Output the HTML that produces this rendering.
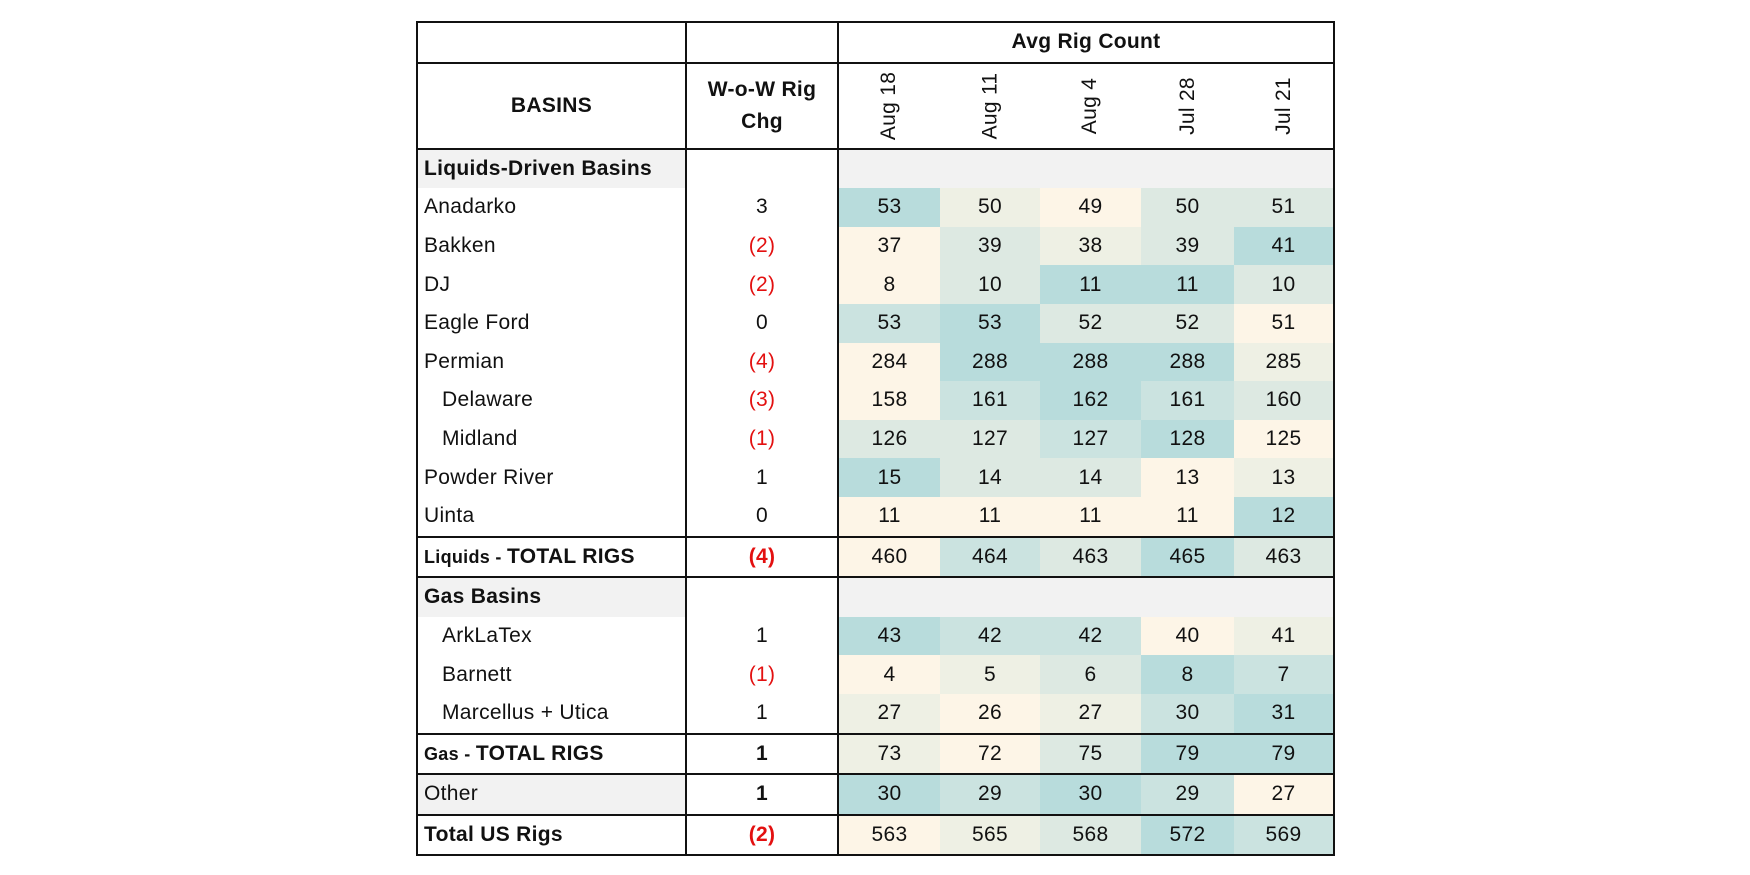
<!DOCTYPE html>
<html><head><meta charset="utf-8"><style>
body{margin:0;background:#fff;width:1750px;height:875px;overflow:hidden;font-family:"Liberation Sans",Arial,sans-serif;color:#111}
table{position:absolute;left:416px;top:21px;border-collapse:collapse;table-layout:fixed;border:2px solid #111}
td{padding:0;height:38.6px;font-size:21px;text-align:center;white-space:nowrap;overflow:hidden;letter-spacing:0.3px}
td.n{text-align:left;padding-left:6px}
td.i{text-align:left;padding-left:24px}
.b{font-weight:bold}
.r{color:#e31010}
.g{background:#f2f2f2}
.c1{border-right:2px solid #111}.c2{border-right:2px solid #111}
tr.t td{border-top:2px solid #111}
.l0{background:#fdf5e7}.l1{background:#eef0e4}.l2{background:#dde9e2}.l3{background:#cbe3e0}.l4{background:#b8dcdc}
.rot{display:inline-block;transform:rotate(-90deg);white-space:nowrap;font-size:21px}
</style></head><body>
<table>
<colgroup><col style="width:269px"><col style="width:152px"><col style="width:102px"><col style="width:100px"><col style="width:101px"><col style="width:93px"><col style="width:100px"></colgroup>
<tr><td class="c1" style="height:36px"></td><td class="c2"></td><td colspan="5" style="font-weight:bold;font-size:21px">Avg Rig Count</td></tr>
<tr class="t"><td class="c1 b" style="height:84px">BASINS</td><td class="c2 b" style="line-height:32px">W-o-W Rig<br>Chg</td>
<td><span class="rot">Aug 18</span></td><td><span class="rot">Aug 11</span></td><td><span class="rot">Aug 4</span></td><td><span class="rot">Jul 28</span></td><td><span class="rot">Jul 21</span></td></tr>
<tr class="t"><td class="c1 n b g" style="font-size:21px">Liquids-Driven Basins</td><td class="c2"></td><td colspan="5" class="g"></td></tr>
<tr><td class="c1 n">Anadarko</td><td class="c2">3</td><td class="l4">53</td><td class="l1">50</td><td class="l0">49</td><td class="l2">50</td><td class="l2">51</td></tr>
<tr><td class="c1 n">Bakken</td><td class="c2 r">(2)</td><td class="l0">37</td><td class="l2">39</td><td class="l1">38</td><td class="l2">39</td><td class="l4">41</td></tr>
<tr><td class="c1 n">DJ</td><td class="c2 r">(2)</td><td class="l0">8</td><td class="l2">10</td><td class="l4">11</td><td class="l4">11</td><td class="l2">10</td></tr>
<tr><td class="c1 n">Eagle Ford</td><td class="c2">0</td><td class="l3">53</td><td class="l4">53</td><td class="l2">52</td><td class="l2">52</td><td class="l0">51</td></tr>
<tr><td class="c1 n">Permian</td><td class="c2 r">(4)</td><td class="l0">284</td><td class="l4">288</td><td class="l4">288</td><td class="l4">288</td><td class="l1">285</td></tr>
<tr><td class="c1 i">Delaware</td><td class="c2 r">(3)</td><td class="l0">158</td><td class="l3">161</td><td class="l4">162</td><td class="l3">161</td><td class="l2">160</td></tr>
<tr><td class="c1 i">Midland</td><td class="c2 r">(1)</td><td class="l2">126</td><td class="l2">127</td><td class="l3">127</td><td class="l4">128</td><td class="l0">125</td></tr>
<tr><td class="c1 n">Powder River</td><td class="c2">1</td><td class="l4">15</td><td class="l2">14</td><td class="l2">14</td><td class="l0">13</td><td class="l1">13</td></tr>
<tr><td class="c1 n">Uinta</td><td class="c2">0</td><td class="l0">11</td><td class="l0">11</td><td class="l0">11</td><td class="l0">11</td><td class="l4">12</td></tr>
<tr class="t"><td class="c1 n b"><span style="font-size:18px">Liquids - </span>TOTAL RIGS</td><td class="c2 r b">(4)</td><td class="l0">460</td><td class="l3">464</td><td class="l2">463</td><td class="l4">465</td><td class="l2">463</td></tr>
<tr class="t"><td class="c1 n b g" style="font-size:21px">Gas Basins</td><td class="c2"></td><td colspan="5" class="g"></td></tr>
<tr><td class="c1 i">ArkLaTex</td><td class="c2">1</td><td class="l4">43</td><td class="l3">42</td><td class="l3">42</td><td class="l0">40</td><td class="l1">41</td></tr>
<tr><td class="c1 i">Barnett</td><td class="c2 r">(1)</td><td class="l0">4</td><td class="l1">5</td><td class="l2">6</td><td class="l4">8</td><td class="l3">7</td></tr>
<tr><td class="c1 i">Marcellus + Utica</td><td class="c2">1</td><td class="l1">27</td><td class="l0">26</td><td class="l1">27</td><td class="l3">30</td><td class="l4">31</td></tr>
<tr class="t"><td class="c1 n b"><span style="font-size:18px">Gas - </span>TOTAL RIGS</td><td class="c2 b">1</td><td class="l1">73</td><td class="l0">72</td><td class="l2">75</td><td class="l4">79</td><td class="l4">79</td></tr>
<tr class="t"><td class="c1 n g">Other</td><td class="c2 b">1</td><td class="l4">30</td><td class="l3">29</td><td class="l4">30</td><td class="l3">29</td><td class="l0">27</td></tr>
<tr class="t"><td class="c1 n b">Total US Rigs</td><td class="c2 r b">(2)</td><td class="l0">563</td><td class="l1">565</td><td class="l2">568</td><td class="l4">572</td><td class="l3">569</td></tr>
</table>
</body></html>
